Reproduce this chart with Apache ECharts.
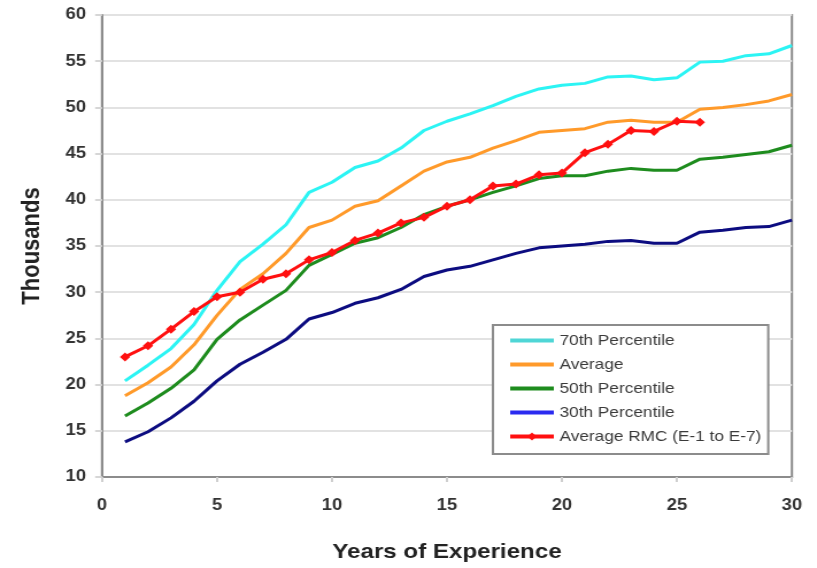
<!DOCTYPE html>
<html>
<head>
<meta charset="utf-8">
<script src="https://cdn.jsdelivr.net/npm/echarts@6/dist/echarts.min.js"></script>
<style>
  html, body { margin: 0; padding: 0; background: #fff; overflow: hidden; }
  #chart { width: 711px; height: 568px; transform: scaleX(1.149); transform-origin: 0 0; }
</style>
</head>
<body>
<div id="chart"></div>
<script>
// ---- data ----
const years = [1,2,3,4,5,6,7,8,9,10,11,12,13,14,15,16,17,18,19,20,21,22,23,24,25,26,27,28,29,30];
const pct70 = [20.4,22.1,23.9,26.5,30.2,33.3,35.2,37.3,40.8,41.9,43.5,44.2,45.6,47.5,48.5,49.3,50.2,51.2,52.0,52.4,52.6,53.3,53.4,53.0,53.2,54.9,55.0,55.6,55.8,56.7];
const average = [18.8,20.2,21.9,24.3,27.5,30.3,32.0,34.2,37.0,37.8,39.3,39.9,41.5,43.1,44.1,44.6,45.6,46.4,47.3,47.5,47.7,48.4,48.6,48.4,48.4,49.8,50.0,50.3,50.7,51.4];
const pct50 = [16.6,18.0,19.6,21.6,24.9,27.0,28.6,30.2,32.9,34.1,35.3,35.9,37.0,38.4,39.3,40.0,40.8,41.5,42.3,42.6,42.6,43.1,43.4,43.2,43.2,44.4,44.6,44.9,45.2,45.9];
const pct30 = [13.8,14.9,16.4,18.2,20.4,22.2,23.5,24.9,27.1,27.8,28.8,29.4,30.3,31.7,32.4,32.8,33.5,34.2,34.8,35.0,35.2,35.5,35.6,35.3,35.3,36.5,36.7,37.0,37.1,37.8];
const rmcYears = [1,2,3,4,5,6,7,8,9,10,11,12,13,14,15,16,17,18,19,20,21,22,23,24,25,26];
const rmc = [23.0,24.2,26.0,27.9,29.5,30.0,31.4,32.0,33.5,34.3,35.6,36.4,37.5,38.1,39.3,40.0,41.5,41.7,42.7,42.9,45.1,46.0,47.5,47.4,48.5,48.4];
const seriesNames = ['70th Percentile','Average','50th Percentile','30th Percentile','Average RMC (E-1 to E-7)'];

const pairs = (xs, ys) => xs.map((x, i) => [x, ys[i]]);
const FONT = '"Liberation Sans", Arial, sans-serif';

const chart = echarts.init(document.getElementById('chart'));
const lineSeries = (name, xs, ys, color, extra) => Object.assign({
  name, type: 'line', data: pairs(xs, ys),
  symbol: 'none', smooth: false,
  lineStyle: { color, width: 3 }, itemStyle: { color },
  emphasis: { disabled: true }, animation: false
}, extra || {});

const plainLegend = (name, color) => ({
  name,
  itemStyle: { opacity: 0, borderWidth: 0 },
  lineStyle: { color, width: 4, opacity: 1 }
});

chart.setOption({
  animation: false,
  backgroundColor: '#ffffff',
  grid: {
    left: 88.8, right: 21.8, top: 15, bottom: 91,
    show: true, borderColor: '#8c8c8c', borderWidth: 2, backgroundColor: 'transparent'
  },
  xAxis: {
    type: 'value', min: 0, max: 30, interval: 5,
    name: 'Years of Experience', nameLocation: 'middle', nameGap: 65,
    nameTextStyle: { fontFamily: FONT, fontWeight: 'bold', fontSize: 21, color: '#222' },
    axisLine: { show: true, lineStyle: { color: '#8c8c8c', width: 2 } },
    axisTick: { show: true, inside: false, length: 5, lineStyle: { color: '#cfcfcf', width: 2 } },
    axisLabel: { margin: 21, fontFamily: FONT, fontWeight: 'bold', fontSize: 16, color: '#333' },
    splitLine: { show: false }
  },
  yAxis: {
    type: 'value', min: 10, max: 60, interval: 5,
    name: 'Thousands', nameLocation: 'middle', nameGap: 50,
    nameTextStyle: { fontFamily: FONT, fontWeight: 'bold', fontSize: 22, color: '#222' },
    axisLine: { show: true, lineStyle: { color: '#8c8c8c', width: 2 } },
    axisTick: { show: true, inside: false, length: 6, lineStyle: { color: '#d6d6d6', width: 2 } },
    axisLabel: { margin: 14, fontFamily: FONT, fontWeight: 'bold', fontSize: 16, color: '#333' },
    splitLine: { show: true, lineStyle: { color: '#e2e2e2', width: 2 } }
  },
  legend: {
    orient: 'vertical', left: 429, top: 325,
    padding: [8, 6, 10, 13], itemGap: 9,
    itemWidth: 38, itemHeight: 10,
    backgroundColor: '#ffffff', borderColor: '#8c8c8c', borderWidth: 2,
    textStyle: { fontFamily: FONT, fontSize: 15, color: '#3a3a3a' },
    selectedMode: false,
    data: [
      plainLegend(seriesNames[0], '#4fd6d6'),
      plainLegend(seriesNames[1], '#ff9a2a'),
      plainLegend(seriesNames[2], '#1e8c1e'),
      plainLegend(seriesNames[3], '#2a2af0'),
      { name: seriesNames[4], lineStyle: { width: 4 } }
    ]
  },
  series: [
    lineSeries(seriesNames[0], years, pct70, '#2cf4f4'),
    lineSeries(seriesNames[1], years, average, '#ff9a2a'),
    lineSeries(seriesNames[2], years, pct50, '#1e8c1e'),
    lineSeries(seriesNames[3], years, pct30, '#0c0c80'),
    lineSeries(seriesNames[4], rmcYears, rmc, '#ff1010', {
      symbol: 'diamond', symbolSize: 9, showSymbol: true, z: 5
    })
  ]
});
</script>
</body>
</html>
